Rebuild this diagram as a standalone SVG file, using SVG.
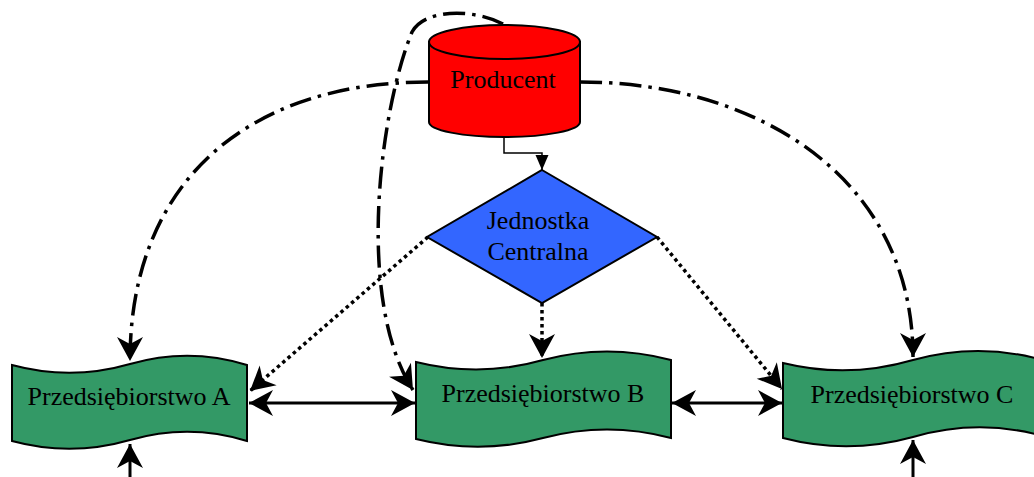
<svg xmlns="http://www.w3.org/2000/svg" width="1034" height="477" viewBox="0 0 1034 477">
<style>
.lbl{font-family:"Liberation Serif","Times New Roman",serif;font-size:26px;fill:#000;text-anchor:middle}
.shape{stroke:#000;stroke-width:2}
.doc{fill:#339966;stroke:#000;stroke-width:2}
.solid{fill:none;stroke:#000;stroke-width:3}
.dot{fill:none;stroke:#000;stroke-width:3.5;stroke-dasharray:3.5 3.5}
.dd{fill:none;stroke:#000;stroke-width:3.5;stroke-dasharray:22 7 3.5 7}
.thin{fill:none;stroke:#000;stroke-width:1.5}
</style>
<defs>
<marker id="barb" viewBox="-25 -14 27 28" markerWidth="27" markerHeight="28" refX="0" refY="0" markerUnits="userSpaceOnUse" orient="auto-start-reverse">
<path d="M0,0 L-24,-13 L-17,0 L-24,13 Z" fill="#000"/>
</marker>
<marker id="tri" viewBox="-15 -8 16 16" markerWidth="16" markerHeight="16" refX="0" refY="0" markerUnits="userSpaceOnUse" orient="auto">
<path d="M0,0 L-15,-6.5 L-15,6.5 Z" fill="#000"/>
</marker>
</defs>
<g id="connectors">
<path class="thin" d="M504,137 L504,153 L542,153 L542,170" marker-end="url(#tri)"/>
<path class="dd" d="M428,82 C250,82 130,180 130,361" marker-end="url(#barb)"/>
<path class="dd" d="M580,82 C760,82 913,180 913,357" marker-end="url(#barb)"/>
<path class="dd" d="M503,24 C475,9 425,8 412,32 C380,110 355,300 413,390" marker-end="url(#barb)"/>
<path class="dot" d="M428,237 L250,391" marker-end="url(#barb)"/>
<path class="dot" d="M657,237 L782,389" marker-end="url(#barb)"/>
<path class="dot" d="M542,303 L542,358" marker-end="url(#barb)"/>
<path class="solid" d="M249,403 L415,403" marker-start="url(#barb)" marker-end="url(#barb)"/>
<path class="solid" d="M672,403 L782,403" marker-start="url(#barb)" marker-end="url(#barb)"/>
<path class="solid" d="M130,477 L130,444" marker-end="url(#barb)"/>
<path class="solid" d="M913,477 L913,440" marker-end="url(#barb)"/>
</g>
<g id="producent">
<path class="shape" fill="#FF0000" d="M429,42 L429,122 A75.5,15 0 0 0 580,122 L580,42 Z"/>
<ellipse class="shape" fill="#FF0000" cx="504.5" cy="42" rx="75.5" ry="17"/>
<text class="lbl" x="503" y="88">Producent</text>
</g>
<g id="jednostka">
<path class="shape" fill="#3366FF" d="M542,170 L657,237 L542,303 L427,237 Z"/>
<text class="lbl" x="538" y="229">Jednostka</text>
<text class="lbl" x="538" y="260">Centralna</text>
</g>
<g id="przedsiebiorstwo-a">
<path class="doc" d="M12,365 Q71,381 130,364 Q189,347 247,365 L247,441 Q189,423 130,440 Q71,457 12,441 Z"/>
<text class="lbl" x="129" y="405">Przedsiębiorstwo A</text>
</g>
<g id="przedsiebiorstwo-b">
<path class="doc" d="M416,362 Q480,378 543,360 Q607,343 671,360 L671,438 Q607,421 543,438 Q480,455 416,439 Z"/>
<text class="lbl" x="543" y="402">Przedsiębiorstwo B</text>
</g>
<g id="przedsiebiorstwo-c">
<path class="doc" d="M783,363 Q848,379 913,360 Q978,342 1043,360 L1043,436 Q978,418 913,437 Q848,455 783,438 Z"/>
<text class="lbl" x="912" y="403">Przedsiębiorstwo C</text>
</g>
</svg>
